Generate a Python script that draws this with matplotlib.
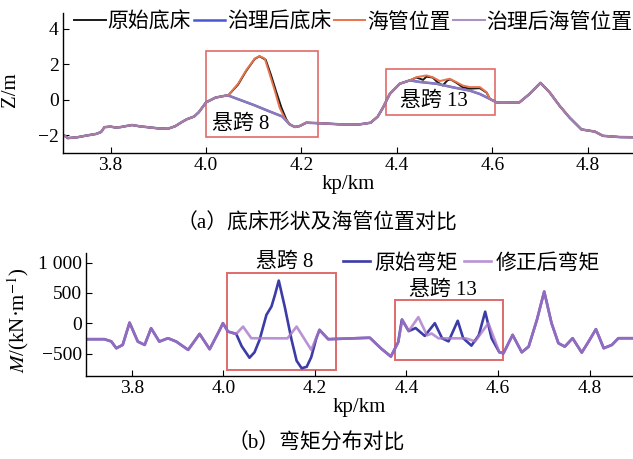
import numpy as np
import matplotlib
matplotlib.use("Agg")
import matplotlib.pyplot as plt
from matplotlib.patches import Rectangle
from matplotlib.ticker import FuncFormatter

plt.rcParams["font.family"] = ["Liberation Serif", "Noto Sans CJK SC"]
plt.rcParams["mathtext.fontset"] = "stix"
plt.rcParams["axes.unicode_minus"] = True

# ── (a) bed profile, treated bed / treated pipe (kp in km, z in m) ──────────
KP_BED = [3.700, 3.703, 3.710, 3.730, 3.750, 3.770, 3.780, 3.787, 3.800, 3.810,
          3.820, 3.830, 3.845, 3.860, 3.880, 3.900, 3.920, 3.935, 3.950, 3.960,
          3.975, 3.985, 4.000, 4.020, 4.045, 4.070, 4.100, 4.130, 4.160, 4.175,
          4.186, 4.196, 4.210, 4.240, 4.280, 4.320, 4.345, 4.360, 4.371, 4.385,
          4.406, 4.427, 4.448, 4.483, 4.517, 4.553, 4.574, 4.595, 4.609, 4.620,
          4.657, 4.678, 4.701, 4.720, 4.741, 4.762, 4.787, 4.808, 4.815, 4.832,
          4.867, 4.895]
Z_TREATED = [-2.08, -2.02, -2.17, -2.12, -2.02, -1.93, -1.82, -1.55, -1.52, -1.57,
             -1.55, -1.50, -1.43, -1.50, -1.56, -1.62, -1.64, -1.50, -1.25, -1.10,
             -0.95, -0.70, -0.15, 0.12, 0.25, 0.00, -0.30, -0.63, -0.95, -1.39,
             -1.54, -1.49, -1.30, -1.33, -1.39, -1.40, -1.30, -0.95, -0.44, 0.32,
             0.90, 1.09, 1.00, 0.90, 0.70, 0.51, 0.32, 0.04, -0.15, -0.17,
             -0.15, 0.32, 0.95, 0.42, -0.34, -1.01, -1.68, -1.77, -1.80, -2.04,
             -2.11, -2.12]

# span 8 hump (original bed and pipe resting on it)
KP_S8_PIPE = [4.046, 4.067, 4.084, 4.102, 4.112, 4.123, 4.133, 4.144, 4.154, 4.165, 4.175]
Z_S8_PIPE = [0.23, 0.90, 1.66, 2.32, 2.46, 2.32, 1.47, 0.51, -0.44, -1.05, -1.39]
KP_S8_BED = [4.046, 4.067, 4.084, 4.102, 4.112, 4.125, 4.136, 4.147, 4.158, 4.168, 4.175]
Z_S8_BED = [0.23, 0.85, 1.62, 2.30, 2.45, 2.25, 1.40, 0.45, -0.45, -1.10, -1.39]

# span 13
KP_S13_PIPE = [4.427, 4.441, 4.462, 4.475, 4.490, 4.510, 4.525, 4.538, 4.553, 4.574, 4.588, 4.595]
Z_S13_PIPE = [1.09, 1.27, 1.37, 1.27, 1.05, 1.18, 0.99, 0.80, 0.71, 0.71, 0.42, 0.04]
KP_S13_BED = [4.427, 4.441, 4.455, 4.462, 4.475, 4.485, 4.496, 4.506, 4.512, 4.525,
              4.538, 4.553, 4.574, 4.588, 4.595]
Z_S13_BED = [1.09, 1.25, 1.12, 1.30, 1.25, 0.99, 0.80, 1.09, 1.15, 0.95,
             0.70, 0.62, 0.65, 0.40, 0.04]

# ── (b) bending moment (kN·m) ──────────────────────────────────────────────
KP_M = [3.700, 3.740, 3.755, 3.766, 3.780, 3.795, 3.813, 3.828, 3.842, 3.860,
        3.879, 3.897, 3.923, 3.948, 3.970, 3.992, 3.999, 4.010, 4.028, 4.043,
        4.061, 4.140, 4.160, 4.192, 4.210, 4.229, 4.320, 4.345, 4.366, 4.382,
        4.391, 4.405, 4.426, 4.445, 4.455, 4.470, 4.530, 4.550, 4.579, 4.603,
        4.612, 4.632, 4.652, 4.667, 4.685, 4.701, 4.717, 4.732, 4.746, 4.763,
        4.783, 4.798, 4.814, 4.831, 4.849, 4.863, 4.899]
M_FIXED = [-264, -264, -300, -413, -358, 10, -303, -358, -83, -303,
           -248, -303, -440, -177, -429, -110, 0, -138, -177, -56,
           -248, -250, -56, -440, -110, -264, -240, -420, -550, -312,
           60, -130, 100, -200, -170, -250, -250, -300, 0, -480,
           -495, -193, -480, -386, 54, 522, 0, -330, -386, -248,
           -485, -303, -99, -413, -358, -248, -248]

KP_M8 = [4.028, 4.040, 4.057, 4.068, 4.079, 4.094, 4.105, 4.112, 4.121, 4.134,
         4.149, 4.160, 4.171, 4.182, 4.192, 4.203, 4.210, 4.229]
M_ORIG8 = [-177, -380, -570, -480, -276, 137, 274, 450, 703, 274,
           -276, -620, -743, -720, -560, -250, -110, -264]
KP_M13 = [4.382, 4.390, 4.405, 4.420, 4.440, 4.462, 4.478, 4.492, 4.512, 4.524,
          4.542, 4.558, 4.572, 4.586, 4.603, 4.612]
M_ORIG13 = [-312, 60, -130, -80, -210, 0, -250, -300, 40, -248,
            -370, -200, 190, -248, -480, -495]


def splice(kp, z, pieces):
    kp = np.asarray(kp)
    z = np.asarray(z)
    xs, ys = [], []
    lo = -np.inf
    for pk, pz in pieces:
        m = (kp > lo) & (kp < pk[0])
        xs += [kp[m], np.asarray(pk)]
        ys += [z[m], np.asarray(pz)]
        lo = pk[-1]
    m = kp > lo
    xs.append(kp[m])
    ys.append(z[m])
    return np.concatenate(xs), np.concatenate(ys)


kp_bed0, z_bed0 = splice(KP_BED, Z_TREATED, [(KP_S8_BED, Z_S8_BED), (KP_S13_BED, Z_S13_BED)])
kp_pipe0, z_pipe0 = splice(KP_BED, Z_TREATED, [(KP_S8_PIPE, Z_S8_PIPE), (KP_S13_PIPE, Z_S13_PIPE)])
kp_m0, m_orig = splice(KP_M, M_FIXED, [(KP_M8, M_ORIG8), (KP_M13, M_ORIG13)])

fig = plt.figure(figsize=(6.33, 4.59), dpi=100)
ax1 = fig.add_axes([0.0995, 0.667, 0.9005, 0.305])
ax2 = fig.add_axes([0.136, 0.181, 0.864, 0.268])

box_color = "#e06a6a"
for ax in (ax1, ax2):
    ax.spines["top"].set_visible(False)
    ax.spines["right"].set_visible(False)
    ax.spines["left"].set_linewidth(1.0)
    ax.spines["bottom"].set_linewidth(1.0)
    ax.tick_params(direction="in", labelsize=14, length=4, width=0.8, pad=3)
    ax.set_xlim(3.7, 4.895)
    ax.set_xticks([3.8, 4.0, 4.2, 4.4, 4.6, 4.8])
    ax.xaxis.set_major_formatter(FuncFormatter(lambda v, p: f"{v:.1f}"))
    ax.set_xlabel("kp/km", fontsize=15, labelpad=1)

# ── top panel ──────────────────────────────────────────────────────────────
ax1.plot(kp_bed0, z_bed0, color="#1a1a1a", lw=1.4, label="原始底床")
ax1.plot(KP_BED, Z_TREATED, color="#4a58d0", lw=1.8, label="治理后底床")
ax1.plot(kp_pipe0, z_pipe0, color="#e8744a", lw=1.4, label="海管位置")
ax1.plot(KP_BED, Z_TREATED, color="#9c80b4", lw=1.5, alpha=0.85, label="治理后海管位置")
ax1.set_ylim(-3.0, 4.9)
ax1.set_yticks([-2, 0, 2, 4])
ax1.set_ylabel("Z/m", fontsize=15)
ax1.yaxis.set_label_coords(-0.075, 0.45)
ax1.legend(loc="center left", bbox_to_anchor=(0.02, 0.93), ncol=4, frameon=False,
           fontsize=15, handlelength=1.5, handletextpad=0.1, columnspacing=0.12,
           borderaxespad=0, borderpad=0)
ax1.add_patch(Rectangle((4.0, -2.08), 0.235, 4.82, fill=False, ec=box_color, lw=1.2))
ax1.add_patch(Rectangle((4.377, -0.85), 0.229, 2.6, fill=False, ec=box_color, lw=1.2))
ax1.text(4.073, -1.4, "悬跨 8", fontsize=15, ha="center", va="center")
ax1.text(4.477, -0.09, "悬跨 13", fontsize=15, ha="center", va="center")

# ── bottom panel ───────────────────────────────────────────────────────────
ax2.plot(kp_m0, m_orig, color="#3c3ca8", lw=1.9, label="原始弯矩")
ax2.plot(KP_M, M_FIXED, color="#a878c8", lw=1.9, alpha=0.8, label="修正后弯矩")
ax2.set_ylim(-870, 1160)
ax2.set_yticks([-500, 0, 500, 1000])
ax2.yaxis.set_major_formatter(FuncFormatter(
    lambda v, p: "1 000" if v == 1000 else ("\u2212500" if v == -500 else f"{int(v)}")))
ax2.set_ylabel(r"$M$/(kN·m$^{-1}$)", fontsize=15)
ax2.yaxis.set_label_coords(-0.1, 0.455)
ax2.legend(loc="center left", bbox_to_anchor=(0.47, 0.91), ncol=2, frameon=False,
           fontsize=15, handlelength=1.3, handletextpad=0.2, columnspacing=0.3,
           borderaxespad=0, borderpad=0)
ax2.add_patch(Rectangle((4.008, -770), 0.237, 1595, fill=False, ec=box_color, lw=1.4))
ax2.add_patch(Rectangle((4.376, -605), 0.236, 990, fill=False, ec=box_color, lw=1.4))
ax2.text(4.135, 1005, "悬跨 8", fontsize=15, ha="center", va="center")
ax2.text(4.479, 548, "悬跨 13", fontsize=15, ha="center", va="center")

fig.text(0.5, 1 - 224 / 459, "（a）底床形状及海管位置对比", fontsize=15, ha="center", va="center")
fig.text(0.5, 1 - 444 / 459, "（b）弯矩分布对比", fontsize=15, ha="center", va="center")

fig.savefig("out.png", dpi=100)
